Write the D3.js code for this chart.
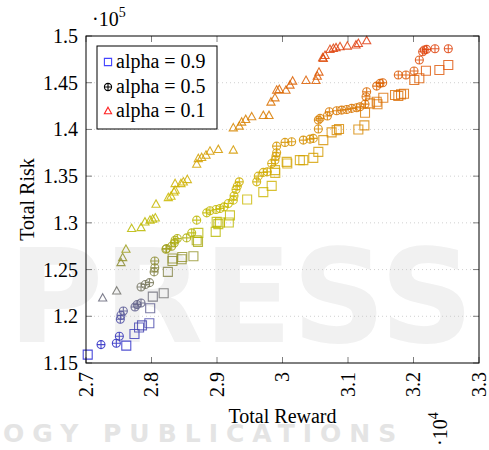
<!DOCTYPE html>
<html>
<head>
<meta charset="utf-8">
<script src="https://cdn.jsdelivr.net/npm/d3@7"></script>
<style>
  body { margin: 0; background: #fff; }
  svg { display: block; font-family: "Liberation Serif", "Times New Roman", serif; }
</style>
</head>
<body>
<div id="chart"></div>
<script>
// total reward / total risk for the three alpha runs
var sqReward = [27026,27615,27740,27810,27855,27967,27980,28020,28186,28250,28320,28323,28460,28470,28640,28690,28710,28715,28980,28995,29020,29046,29180,29198,29460,29707,29835,29885,29890,30064,30073,30265,30318,30470,30547,30623,30750,30827,30863,31158,31250,31260,31336,31450,31438,31539,31718,31768,31810,31855,32012,32089,32190,32395,32531];
var sqRisk   = [115900,116860,118100,118800,119030,119250,120860,122100,122460,124750,125920,126180,126100,126350,126430,128140,127960,128930,129030,130100,129860,130040,130040,130800,132500,133290,133960,135640,135350,136530,136360,136710,136710,136960,137600,138860,139680,139930,140040,140000,140430,141780,142790,142700,142960,143390,143680,143570,143750,143820,145290,145470,146280,146360,146890];

var ciReward = [27229,27463,27509,27524,27534,27570,27748,27780,27840,27840,27906,27970,28040,28050,28050,28220,28230,28308,28348,28360,28394,28537,28614,28690,28843,28893,28985,29046,29107,29173,29249,29260,29290,29310,29340,29606,29630,29707,29768,29835,29885,29900,29911,29910,30038,30140,30318,30420,30470,30547,30547,30573,30685,30715,30827,30904,30980,31056,31133,31183,31260,31275,31285,31438,31489,31530,31768,31885,32008,32089,32140,32165,32200,32328,32531];
var ciRisk   = [116970,117110,117860,119680,120110,120570,121000,121250,121430,123140,123400,123600,124750,125200,125920,127180,127250,127500,127850,128140,128320,128390,128930,130290,131070,131290,131430,131540,131710,132070,132430,132890,133570,133930,134390,134390,135000,135400,135460,136360,136710,137140,137500,138210,138610,138680,138860,138960,139040,140040,141000,141180,141430,141890,142000,142070,142140,142250,142320,142430,142710,143500,144030,144640,144930,145000,145820,145820,146250,147430,148320,148500,148570,148640,148640];

var trReward = [27255,27469,27534,27560,27610,27697,27840,27900,27977,28018,28058,28069,28257,28298,28344,28360,28360,28450,28486,28547,28690,28715,28766,28832,28893,29020,29249,29249,29340,29377,29438,29530,29707,29794,29824,29885,29911,29951,30053,30115,30155,30359,30511,30531,30557,30613,30623,30649,30725,30776,30817,30878,30990,31122,31158,31285];
var trRisk   = [121960,122710,125750,126290,127180,129400,129500,130100,130290,130400,130530,132000,132710,132860,133320,133500,134210,134210,134390,134640,136290,136890,137000,137250,137680,137860,137790,140180,140360,140790,141070,141360,141500,141500,142930,143390,144210,144290,144210,144750,145180,145250,145250,145710,146140,147680,147610,147930,148570,148680,148750,148860,148930,149040,149210,149500];

var legendLabels = ["alpha = 0.9", "alpha = 0.5", "alpha = 0.1"];
var xTicks = [27000, 28000, 29000, 30000, 31000, 32000, 33000];
var yTicks = [115000, 120000, 125000, 130000, 135000, 140000, 145000, 150000];

// colormap stops (meta = risk value)
var cmapRisk  = [115900, 119500, 122500, 126000, 129000, 133000, 137000, 141000, 145000, 149500];
var cmapColor = ["#1c1cd0", "#4a4aa8", "#707070", "#8e8e30", "#b8b800", "#ccb800", "#d4a000", "#d88000", "#dc6000", "#e03c10"];

var W = 489, H = 450;
var pL = 86, pR = 479, pT = 36, pB = 363;

var svg = d3.select("#chart").append("svg")
	.attr("width", W)
	.attr("height", H);

// publisher watermark behind the figure
var wm = svg.append("g").attr("font-family", "DejaVu Sans, sans-serif").attr("font-weight", "bold");
wm.append("text")
	.attr("x", 8).attr("y", 342)
	.attr("font-size", 130)
	.attr("fill", "#f1f1f1")
	.text("PRESS");
wm.append("text")
	.attr("x", 3).attr("y", 442)
	.attr("font-size", 25)
	.attr("letter-spacing", 8)
	.attr("fill", "#e4e4e4")
	.text("OGY PUBLICATIONS");

var x = d3.scaleLinear().domain([27000, 33000]).range([pL, pR]);
var y = d3.scaleLinear().domain([115000, 150000]).range([pB, pT]);
var color = d3.scaleLinear().domain(cmapRisk).range(cmapColor).clamp(true);

// grid
svg.append("g").selectAll("line")
	.data(yTicks.slice(1, -1))
	.join("line")
	.attr("x1", pL).attr("x2", pR)
	.attr("y1", d => y(d)).attr("y2", d => y(d))
	.attr("stroke", "#c4c4c4")
	.attr("stroke-width", 0.8)
	.attr("stroke-dasharray", "1 3");

// tick marks (inside, all four sides)
var tk = svg.append("g").attr("stroke", "#7f7f7f").attr("stroke-width", 1);
xTicks.forEach(function(t) {
	tk.append("line").attr("x1", x(t)).attr("x2", x(t)).attr("y1", pB).attr("y2", pB - 6);
	tk.append("line").attr("x1", x(t)).attr("x2", x(t)).attr("y1", pT).attr("y2", pT + 6);
});
yTicks.forEach(function(t) {
	tk.append("line").attr("x1", pL).attr("x2", pL + 6).attr("y1", y(t)).attr("y2", y(t));
	tk.append("line").attr("x1", pR).attr("x2", pR - 6).attr("y1", y(t)).attr("y2", y(t));
});

// markers
function squarePath(s) { return "M" + (-s) + "," + (-s) + "h" + (2*s) + "v" + (2*s) + "h" + (-2*s) + "Z"; }
function trianglePath(s) { return "M0," + (-s) + "L" + (s*0.95) + "," + (s*0.72) + "L" + (-s*0.95) + "," + (s*0.72) + "Z"; }

var gSq = svg.append("g");
sqReward.forEach(function(r, i) {
	gSq.append("path")
		.attr("d", squarePath(4.5))
		.attr("transform", "translate(" + x(r) + "," + y(sqRisk[i]) + ")")
		.attr("fill", "none")
		.attr("stroke", color(sqRisk[i]))
		.attr("stroke-opacity", 0.8)
		.attr("stroke-width", 1.1);
});

var gCi = svg.append("g");
ciReward.forEach(function(r, i) {
	var c = color(ciRisk[i]);
	var g = gCi.append("g").attr("transform", "translate(" + x(r) + "," + y(ciRisk[i]) + ")")
		.attr("stroke", c).attr("stroke-opacity", 0.85).attr("stroke-width", 1.1).attr("fill", "none");
	g.append("circle").attr("r", 4);
	g.append("path").attr("d", "M-4,0H4M0,-4V4");
});

var gTr = svg.append("g");
trReward.forEach(function(r, i) {
	gTr.append("path")
		.attr("d", trianglePath(4.3))
		.attr("transform", "translate(" + x(r) + "," + y(trRisk[i]) + ")")
		.attr("fill", "none")
		.attr("stroke", color(trRisk[i]))
		.attr("stroke-opacity", 0.85)
		.attr("stroke-width", 1.1);
});

// frame
svg.append("rect")
	.attr("x", pL).attr("y", pT)
	.attr("width", pR - pL).attr("height", pB - pT)
	.attr("fill", "none").attr("stroke", "#000").attr("stroke-width", 1);

// tick labels
svg.append("g").selectAll("text")
	.data(yTicks)
	.join("text")
	.attr("x", pL - 8)
	.attr("y", d => y(d))
	.attr("dy", "0.35em")
	.attr("text-anchor", "end")
	.attr("font-size", 20)
	.text(d => d3.format("~g")(d / 1e5));

svg.append("g").selectAll("text")
	.data(xTicks)
	.join("text")
	.attr("transform", d => "translate(" + x(d) + ",372) rotate(-90)")
	.attr("dy", "0.33em")
	.attr("text-anchor", "end")
	.attr("font-size", 20)
	.text(d => d3.format("~g")(d / 1e4));

// scale factors
var e5 = svg.append("text").attr("x", 92).attr("y", 26).attr("font-size", 20);
e5.append("tspan").text("\u00b710");
e5.append("tspan").attr("dy", -9).attr("font-size", 14).text("5");

var e4 = svg.append("text").attr("transform", "translate(447,446) rotate(-90)").attr("font-size", 20);
e4.append("tspan").text("\u00b710");
e4.append("tspan").attr("dy", -9).attr("font-size", 14).text("4");

// axis titles
svg.append("text")
	.attr("x", (pL + pR) / 2).attr("y", 423)
	.attr("text-anchor", "middle")
	.attr("font-size", 20)
	.text("Total Reward");

svg.append("text")
	.attr("transform", "translate(34," + ((pT + pB) / 2) + ") rotate(-90)")
	.attr("text-anchor", "middle")
	.attr("font-size", 20)
	.text("Total Risk");

// legend
var lg = svg.append("g");
lg.append("rect")
	.attr("x", 97).attr("y", 46).attr("width", 120).attr("height", 83)
	.attr("fill", "#fff").attr("stroke", "#000").attr("stroke-width", 1);
var rowY = [62, 87, 111];
legendLabels.forEach(function(lab, i) {
	var m = lg.append("g").attr("transform", "translate(108," + rowY[i] + ")").attr("fill", "none").attr("stroke-width", 1.1);
	if (i == 0) {
		m.append("path").attr("d", squarePath(3.6)).attr("stroke", "#4444ff");
	} else if (i == 1) {
		m.append("circle").attr("r", 3.6).attr("stroke", "#000");
		m.append("path").attr("d", "M-3.6,0H3.6M0,-3.6V3.6").attr("stroke", "#000");
	} else {
		m.append("path").attr("d", trianglePath(3.8)).attr("stroke", "#ff2020");
	}
	lg.append("text")
		.attr("x", 116).attr("y", rowY[i] + 6)
		.attr("font-size", 20)
		.text(lab);
});
</script>
</body>
</html>
